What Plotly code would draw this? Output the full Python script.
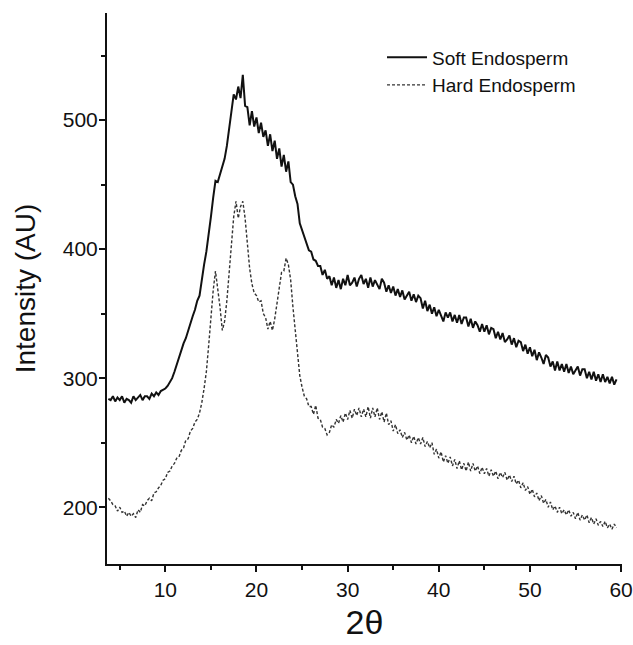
import plotly.graph_objects as go

# 2-theta sampling: starts at 3.75 deg, step 0.25 deg
theta_start = 3.75
theta_step = 0.25

soft_endosperm = [
    284,
    283, 286, 282, 285,
    283, 286, 281, 284,
    283, 281, 286, 283,
    285, 287, 283, 286,
    286, 284, 288, 286,
    289, 287, 290, 291,
    292, 294, 297, 300,
    305, 311, 315, 321,
    327, 331, 337, 342,
    348, 353, 360, 364,
    378, 388, 398, 410,
    425, 440, 453, 452,
    458, 463, 470, 480,
    494, 510, 520, 516,
    526, 517, 535, 511,
    510, 496, 507, 495,
    502, 490, 498, 487,
    492, 480, 489, 476,
    484, 470, 478, 464,
    473, 460, 468, 452,
    450, 441, 435, 420,
    415, 409, 405, 399,
    398, 392, 391, 387,
    387, 380, 384, 377,
    379, 372, 378, 370,
    376, 369, 377, 372,
    380, 372, 374, 378,
    371, 377, 380, 373,
    377, 370, 378, 371,
    376, 372, 369, 377,
    374, 367, 372, 366,
    371, 364, 369, 363,
    368, 361, 364, 367,
    360, 365, 359, 364,
    362, 354, 360, 352,
    357, 350, 355, 348,
    353, 349, 344, 351,
    347, 351, 344, 349,
    343, 349, 342, 347,
    347, 340, 346, 339,
    344, 341, 336, 342,
    336, 341, 334, 339,
    338, 331, 336, 330,
    335, 328, 330, 333,
    326, 331, 324, 329,
    328, 321, 326, 319,
    324, 317, 322, 314,
    320, 316, 311, 318,
    316, 309, 313, 306,
    313, 306, 311, 305,
    311, 304, 309, 303,
    306, 309, 302, 307,
    307, 300, 305, 299,
    305, 298, 303, 297,
    303, 297, 301, 296,
    301, 295, 299,
]

hard_endosperm = [
    207,
    205, 202, 201, 197,
    200, 196, 197, 193,
    196, 193, 195, 192,
    198, 196, 202, 201,
    205, 207, 205, 211,
    212, 215, 217, 221,
    222, 227, 228, 232,
    234, 238, 239, 244,
    246, 252, 253, 259,
    261, 266, 268, 273,
    281, 292, 305, 325,
    348, 368, 383, 370,
    355, 337, 344, 360,
    382, 405, 425, 437,
    424, 433, 437, 424,
    405, 385, 373, 366,
    364, 359, 360, 350,
    347, 338, 344, 337,
    346, 357, 370, 382,
    383, 393, 388, 376,
    355, 338, 316, 302,
    293, 286, 284, 278,
    278, 272, 279, 269,
    268, 262, 261, 256,
    258, 264, 262, 268,
    265, 271, 266, 273,
    268, 275, 269, 276,
    271, 277, 270, 276,
    270, 278, 269, 277,
    270, 277, 268, 274,
    266, 273, 264, 267,
    259, 264, 257, 260,
    254, 258, 252, 256,
    250, 255, 249, 254,
    249, 254, 247, 251,
    246, 250, 241, 245,
    238, 243, 235, 240,
    234, 239, 232, 237,
    230, 236, 229, 234,
    228, 235, 228, 234,
    228, 232, 226, 231,
    226, 230, 224, 229,
    224, 228, 222, 227,
    223, 227, 221, 225,
    220, 224, 218, 221,
    215, 219, 213, 216,
    210, 214, 208, 211,
    205, 209, 203, 206,
    200, 204, 198, 201,
    196, 200, 195, 198,
    194, 198, 193, 196,
    191, 196, 190, 194,
    190, 194, 188, 192,
    187, 191, 186, 189,
    185, 189, 184, 187,
    183, 187, 184,
]

x_ticks = [10, 20, 30, 40, 50, 60]
y_ticks = [200, 300, 400, 500]

FONT = "Arial, Liberation Sans, sans-serif"

fig = go.Figure()
fig.add_trace(go.Scatter(
    y=soft_endosperm, x0=theta_start, dx=theta_step,
    mode="lines", name="Soft Endosperm",
    line=dict(color="#111111", width=2),
))
fig.add_trace(go.Scatter(
    y=hard_endosperm, x0=theta_start, dx=theta_step,
    mode="lines", name="Hard Endosperm",
    line=dict(color="#333333", width=1.4, dash="3px,2px"),
))

fig.update_layout(
    width=633, height=645,
    margin=dict(l=107, r=11, t=13, b=81, autoexpand=False),
    paper_bgcolor="white", plot_bgcolor="white",
    font=dict(family=FONT, color="#111111"),
    showlegend=True,
    legend=dict(
        x=0.534, y=0.954, xanchor="left", yanchor="top",
        font=dict(size=19, family=FONT, color="#111111"),
        bgcolor="rgba(0,0,0,0)", borderwidth=0,
        itemwidth=40, tracegroupgap=0,
    ),
    xaxis=dict(
        range=[3.6, 60.1],
        tickvals=x_ticks,
        ticks="outside", ticklen=6, tickwidth=1.5, tickcolor="#111111",
        minor=dict(dtick=5, tick0=0, ticks="outside", ticklen=4, tickwidth=1.5, tickcolor="#111111"),
        showline=True, linecolor="#111111", linewidth=2,
        showgrid=False, zeroline=False, automargin=False,
        ticklabeloverflow="allow",
        tickfont=dict(size=21, family=FONT),
        title=dict(text="2θ", font=dict(size=34, family=FONT), standoff=10),
    ),
    yaxis=dict(
        range=[156, 583],
        tickvals=y_ticks,
        ticks="outside", ticklen=6, tickwidth=1.5, tickcolor="#111111",
        minor=dict(dtick=50, tick0=0, ticks="outside", ticklen=4, tickwidth=1.5, tickcolor="#111111"),
        showline=True, linecolor="#111111", linewidth=2,
        showgrid=False, zeroline=False, automargin=False,
        ticklabelstandoff=-3,
        tickfont=dict(size=21, family=FONT),
        title=dict(text="Intensity (AU)", font=dict(size=28, family=FONT), standoff=19),
    ),
)

fig.write_html(
    "out.html",
    config={"displayModeBar": False},
    post_script="document.body.style.margin='0';document.body.style.overflow='hidden';",
)
